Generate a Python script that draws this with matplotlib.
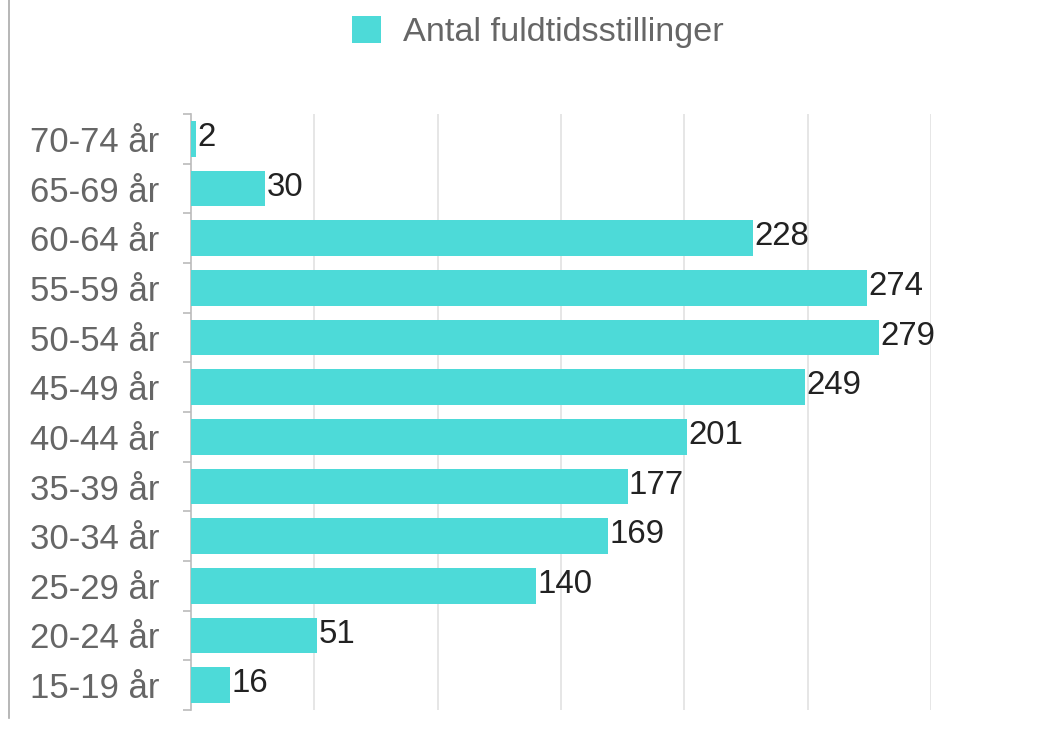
import matplotlib
matplotlib.use("Agg")
import matplotlib.pyplot as plt
from matplotlib.lines import Line2D
from matplotlib.patches import Patch
import numpy as np

plt.rcParams['font.family'] = ['Liberation Sans', 'DejaVu Sans']

categories = ["15-19 år", "20-24 år", "25-29 år", "30-34 år", "35-39 år", "40-44 år",
              "45-49 år", "50-54 år", "55-59 år", "60-64 år", "65-69 år", "70-74 år"]
values = [16, 51, 140, 169, 177, 201, 249, 279, 274, 228, 30, 2]
series_name = "Antal fuldtidsstillinger"
bar_color = "#4DDAD8"

W, H = 1048, 729
fig = plt.figure(figsize=(W / 100, H / 100), dpi=100)
ax = fig.add_axes([191 / W, 1 - 710 / H, (931 - 191) / W, (710 - 114) / H])

y = np.arange(len(categories))
ax.barh(y, values, height=0.72, color=bar_color, zorder=3)
for yi, v in zip(y, values):
    ax.annotate(str(v), (v, yi), xytext=(1, 1), textcoords='offset points',
                ha='left', va='center', fontsize=23.8, color='#222222', zorder=4)

ax.set_xlim(0, 300)
ax.set_ylim(-0.5, len(categories) - 0.5)
ax.set_xticks(np.arange(50, 301, 50))
ax.xaxis.grid(True, color='#e2e2e2', linewidth=1.2, zorder=0)
ax.tick_params(axis='x', length=0, labelbottom=False)

ax.set_yticks(y)
ax.set_yticklabels(categories)
ax.set_yticks(np.arange(-0.5, len(categories), 1.0), minor=True)
ax.tick_params(axis='y', which='major', length=0, pad=23, labelsize=25, labelcolor='#666666')
ax.tick_params(axis='y', which='minor', length=6, width=1.2, color='#bbbbbb')

for s in ['top', 'right', 'bottom']:
    ax.spines[s].set_visible(False)
ax.spines['left'].set_color('#bbbbbb')
ax.spines['left'].set_linewidth(1.2)

handle = Patch(facecolor=bar_color, edgecolor='none')
fig.legend([handle], [series_name], loc='center', bbox_to_anchor=(538 / W, 1 - 32 / H),
           frameon=False, fontsize=24.7, labelcolor='#666666',
           handlelength=0.82, handleheight=0.82, handletextpad=0.65)

fig.add_artist(Line2D([9 / W, 9 / W], [1 - 718 / H, 1], color='#aaaaaa', linewidth=1.2))

fig.savefig("out.png", dpi=100)
